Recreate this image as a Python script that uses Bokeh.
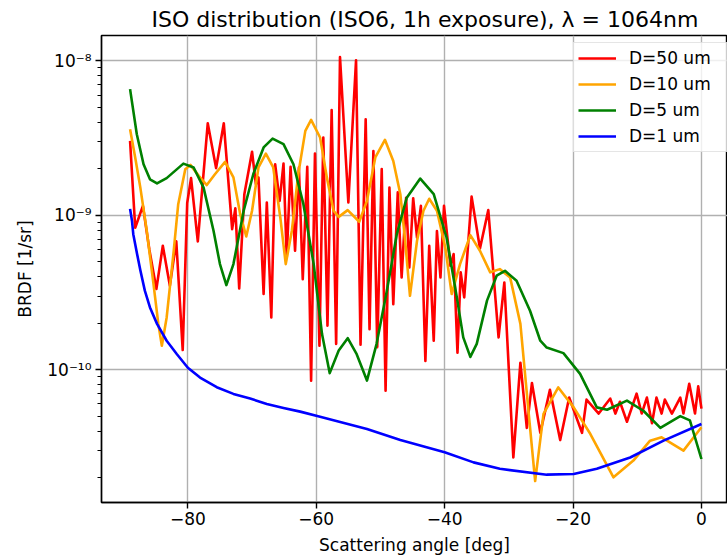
from bokeh.plotting import figure
from bokeh.models import FixedTicker, CustomJSTickFormatter
from bokeh.embed import file_html
from bokeh.resources import INLINE

# ---------------- data ----------------
red_angle = [-89.0, -88.2, -87.0, -86.0, -84.9, -83.9, -82.8, -81.8, -80.8, -80.1,
             -79.5, -78.45, -76.9, -75.6, -74.4, -73.1, -72.6, -72.0, -71.2, -70.0,
             -69.4, -69.0, -68.2, -67.7, -67.0, -66.4, -65.7, -65.1, -64.6, -64.0,
             -63.3, -62.7, -62.1, -61.4, -60.8, -60.2, -59.5, -58.9, -58.25, -57.6,
             -56.9, -56.3, -55.0, -53.8, -53.1, -52.3, -51.7, -51.1, -50.5, -49.8,
             -49.2, -48.6, -48.0, -47.3, -46.7, -46.0, -45.5, -44.9, -44.3, -43.7,
             -43.0, -42.4, -41.7, -41.2, -40.65, -40.1, -39.1, -38.6, -38.0, -37.5,
             -36.95, -35.8, -34.5, -33.2, -31.6, -30.7, -29.3, -28.2, -27.2, -26.4,
             -25.1, -23.6, -22.0, -20.6, -18.6, -17.9, -16.0, -14.2, -13.4, -12.7,
             -11.6, -10.1, -9.3, -8.5, -7.7, -7.0, -6.2, -5.7, -4.6, -3.3,
             -2.8, -1.9, -1.0, -0.5, 0.0]
red_brdf = [3.03e-9, 8.3e-10, 1.15e-9, 6.0e-10, 3.33e-10, 6.35e-10, 3.5e-10, 6.78e-10, 1.34e-10, 1.2e-9,
            1.74e-9, 6.78e-10, 3.94e-9, 2.02e-9, 3.94e-9, 8.13e-10, 1.11e-9, 3.36e-10, 1.37e-9, 2.58e-9,
            1.59e-9, 1.76e-9, 3.09e-10, 1.21e-9, 2.18e-10, 2.14e-9, 1.24e-9, 2.16e-9, 5.33e-10, 2.06e-9,
            5.89e-10, 2.04e-9, 3.86e-10, 2.06e-9, 8.49e-11, 2.51e-9, 1.43e-10, 3.19e-9, 1.93e-10, 4.8e-9,
            1.47e-10, 1.06e-8, 1.21e-9, 1.01e-8, 1.45e-10, 4.19e-9, 1.83e-10, 2.61e-9, 1.4e-10, 1.99e-9,
            7.3e-11, 1.51e-9, 2.66e-10, 1.41e-9, 3.96e-10, 1.3e-9, 4.59e-10, 1.29e-9, 7.18e-10, 1.15e-9,
            1.14e-10, 6.35e-10, 1.54e-10, 7.9e-10, 3.96e-10, 1.15e-9, 4.71e-10, 5.61e-10, 1.29e-10, 4.27e-10,
            2.94e-10, 1.32e-9, 6.1e-10, 1.08e-9, 1.62e-10, 3.67e-10, 2.7e-11, 1.11e-10, 4.2e-11, 8.2e-11,
            3.9e-11, 7.4e-11, 3.5e-11, 6.6e-11, 3.9e-11, 6.4e-11, 5.2e-11, 6.5e-11, 5.2e-11, 6.2e-11,
            4.6e-11, 7.0e-11, 5.2e-11, 6.6e-11, 4.5e-11, 6.6e-11, 5.2e-11, 6.4e-11, 5.2e-11, 6.6e-11,
            5.2e-11, 8.1e-11, 5.2e-11, 7.8e-11, 5.6e-11]

orange_angle = [-89.0, -88.2, -87.4, -86.4, -85.35, -84.6, -84.05, -83.3, -82.2, -81.5,
                -80.4, -79.6, -78.3, -77.05, -75.75, -74.2, -72.9, -71.85, -70.9, -70.0,
                -69.0, -67.85, -66.7, -65.6, -64.75, -63.8, -62.8, -61.7, -60.8, -59.4,
                -58.35, -57.3, -56.5, -55.1, -53.3, -52.1, -50.8, -49.3, -48.0, -46.9,
                -46.15, -45.4, -44.3, -43.3, -42.4, -41.2, -39.9, -38.9, -37.6, -36.0,
                -34.5, -32.9, -31.4, -29.8, -28.2, -26.9, -25.9, -24.6, -22.3, -19.9,
                -17.3, -13.7, -10.6, -8.0, -6.2, -2.8, 0.0]
orange_brdf = [3.61e-9, 2.37e-9, 1.51e-9, 7.94e-10, 3.58e-10, 1.98e-10, 1.43e-10, 2.18e-10, 5.89e-10, 1.18e-9,
               1.99e-9, 2.12e-9, 1.8e-9, 1.57e-9, 1.85e-9, 2.22e-9, 1.76e-9, 1.02e-9, 7.29e-10, 1.07e-9,
               2.04e-9, 2.51e-9, 2.04e-9, 9.68e-10, 4.83e-10, 7.94e-10, 1.85e-9, 3.52e-9, 4.15e-9, 3.19e-9,
               1.76e-9, 1.07e-9, 9.77e-10, 1.08e-9, 9.08e-10, 1.24e-9, 2.37e-9, 3.08e-9, 2.25e-9, 1.37e-9,
               6.84e-10, 3.01e-10, 6.84e-10, 1.07e-9, 1.28e-9, 1.07e-9, 6.19e-10, 3.09e-10, 4.83e-10, 7.44e-10,
               5.89e-10, 4.27e-10, 4.48e-10, 3.96e-10, 1.98e-10, 5.17e-11, 1.9e-11, 5.17e-11, 7.67e-11, 5.7e-11,
               3.83e-11, 2.01e-11, 2.58e-11, 3.47e-11, 3.65e-11, 2.99e-11, 4.24e-11]

green_angle = [-89.0, -87.95, -86.9, -85.9, -84.8, -83.3, -80.7, -79.1, -77.55, -76.0,
               -75.0, -74.0, -72.9, -71.3, -69.8, -68.2, -66.8, -65.1, -63.55, -62.0,
               -60.4, -59.1, -57.9, -56.5, -55.1, -53.7, -52.1, -50.6, -49.0, -47.45,
               -45.9, -43.8, -41.7, -39.7, -38.1, -37.1, -36.0, -35.0, -33.4, -31.9,
               -30.6, -28.8, -26.7, -25.1, -24.1, -21.5, -18.9, -16.3, -14.7, -11.6,
               -9.0, -6.4, -3.3, -1.8, 0.0]
green_brdf = [6.56e-9, 3.35e-9, 2.14e-9, 1.71e-9, 1.61e-9, 1.74e-9, 2.16e-9, 2.04e-9, 1.51e-9, 7.94e-10,
              4.83e-10, 3.53e-10, 4.83e-10, 1.07e-9, 1.85e-9, 2.75e-9, 3.14e-9, 2.89e-9, 2.14e-9, 1.18e-9,
              4.83e-10, 1.7e-10, 9.5e-11, 1.33e-10, 1.6e-10, 1.26e-10, 8.5e-11, 1.47e-10, 3.24e-10, 7.55e-10,
              1.3e-9, 1.73e-9, 1.37e-9, 7.18e-10, 2.94e-10, 1.62e-10, 1.21e-10, 1.47e-10, 2.8e-10, 4.06e-10,
              4.37e-10, 3.77e-10, 2.41e-10, 1.54e-10, 1.39e-10, 1.28e-10, 9.4e-11, 5.7e-11, 5.5e-11, 6.3e-11,
              5.4e-11, 4.2e-11, 5.0e-11, 4.7e-11, 2.64e-11]

blue_angle = [-89.0, -88.7, -88.5, -87.9, -87.4, -86.7, -85.9, -84.8, -83.3, -81.7,
              -80.0, -78.1, -75.5, -72.9, -70.3, -67.7, -65.1, -62.5, -59.7, -52.1,
              -46.9, -40.0, -35.5, -31.4, -24.1, -19.9, -16.3, -11.1, -5.9, 0.0]
blue_brdf = [1.10e-9, 9.2e-10, 7.55e-10, 5.6e-10, 4.4e-10, 3.25e-10, 2.53e-10, 1.98e-10, 1.54e-10, 1.26e-10,
             1.03e-10, 8.9e-11, 7.7e-11, 6.97e-11, 6.5e-11, 6.0e-11, 5.65e-11, 5.35e-11, 5.0e-11, 4.13e-11,
             3.51e-11, 2.92e-11, 2.51e-11, 2.28e-11, 2.09e-11, 2.11e-11, 2.28e-11, 2.70e-11, 3.47e-11, 4.45e-11]

series_labels = ["D=50 um", "D=10 um", "D=5 um", "D=1 um"]
series_colors = ["red", "orange", "green", "blue"]

x_ticks = [-80, -60, -40, -20, 0]
y_major_ticks = [1e-10, 1e-9, 1e-8]
y_minor_ticks = [m * d for d in (1e-11, 1e-10, 1e-9) for m in range(2, 10)]

title_text = "ISO distribution (ISO6, 1h exposure), \u03bb = 1064nm"
FONT = "DejaVu Sans"

# ---------------- figure ----------------
p = figure(width=727, height=558, output_backend="svg", toolbar_location=None,
           y_axis_type="log", x_range=(-93.45, 4.06), y_range=(1.38e-11, 1.46e-8),
           min_border_left=101, min_border_right=0, min_border_top=35, min_border_bottom=56,
           background_fill_color="white", border_fill_color="white")

p.title.text = title_text
p.title.text_font = FONT
p.title.text_font_size = "22px"
p.title.text_font_style = "normal"
p.title.align = "left"
p.title.offset = 50
p.title.standoff = 8
p.title.text_color = "#000000"

p.outline_line_color = "black"
p.outline_line_width = 1.4

lines = [(red_angle, red_brdf), (orange_angle, orange_brdf),
         (green_angle, green_brdf), (blue_angle, blue_brdf)]
for (xs, ys), lab, col in zip(lines, series_labels, series_colors):
    p.line(xs, ys, line_color=col, line_width=2.6, legend_label=lab,
           line_join="round")

# axes
p.xaxis.ticker = FixedTicker(ticks=x_ticks)
p.xaxis.formatter = CustomJSTickFormatter(
    code="return (tick < 0 ? '\\u2212' : '') + Math.abs(tick).toFixed(0);")
p.yaxis.ticker = FixedTicker(ticks=y_major_ticks, minor_ticks=y_minor_ticks)
p.yaxis.formatter = CustomJSTickFormatter(code="""
const e = Math.round(Math.log10(tick));
const sup = {'-':'\\u207b','0':'\\u2070','1':'\\u00b9','2':'\\u00b2','3':'\\u00b3',
             '4':'\\u2074','5':'\\u2075','6':'\\u2076','7':'\\u2077','8':'\\u2078','9':'\\u2079'};
return '10' + String(e).split('').map(c => sup[c]).join('');
""")

for ax in (p.xaxis[0], p.yaxis[0]):
    ax.axis_line_color = "black"
    ax.axis_line_width = 1.4
    ax.major_tick_line_color = "black"
    ax.major_tick_line_width = 1.4
    ax.minor_tick_line_color = "black"
    ax.minor_tick_line_width = 1.2
    ax.major_tick_in = 0
    ax.major_tick_out = 6
    ax.minor_tick_in = 0
    ax.minor_tick_out = 4
    ax.major_label_text_font = FONT
    ax.major_label_text_font_size = "17px"
    ax.major_label_text_color = "black"
    ax.axis_label_text_font = FONT
    ax.axis_label_text_font_size = "17px"
    ax.axis_label_text_font_style = "normal"
    ax.axis_label_text_color = "black"

p.xaxis.axis_label = "Scattering angle [deg]"
p.yaxis.axis_label = "BRDF [1/sr]"
p.xaxis.major_label_standoff = 3
p.xaxis.axis_label_standoff = 7
p.yaxis.major_label_standoff = 4
p.yaxis.axis_label_standoff = 9

p.xgrid.grid_line_color = "#b0b0b0"
p.ygrid.grid_line_color = "#b0b0b0"
p.xgrid.grid_line_width = 1.4
p.ygrid.grid_line_width = 1.4

# legend
lg = p.legend[0]
lg.location = (472, 350)
lg.label_text_font = FONT
lg.label_text_font_size = "17px"
lg.label_text_color = "black"
lg.glyph_width = 38
lg.glyph_height = 22
lg.label_height = 22
lg.label_width = 93
lg.label_standoff = 13
lg.spacing = 4
lg.padding = 4
lg.margin = 0
lg.background_fill_color = "white"
lg.background_fill_alpha = 0.8
lg.border_line_color = "#cccccc"
lg.border_line_width = 1.4

open("out.html", "w").write(file_html(p, INLINE))
